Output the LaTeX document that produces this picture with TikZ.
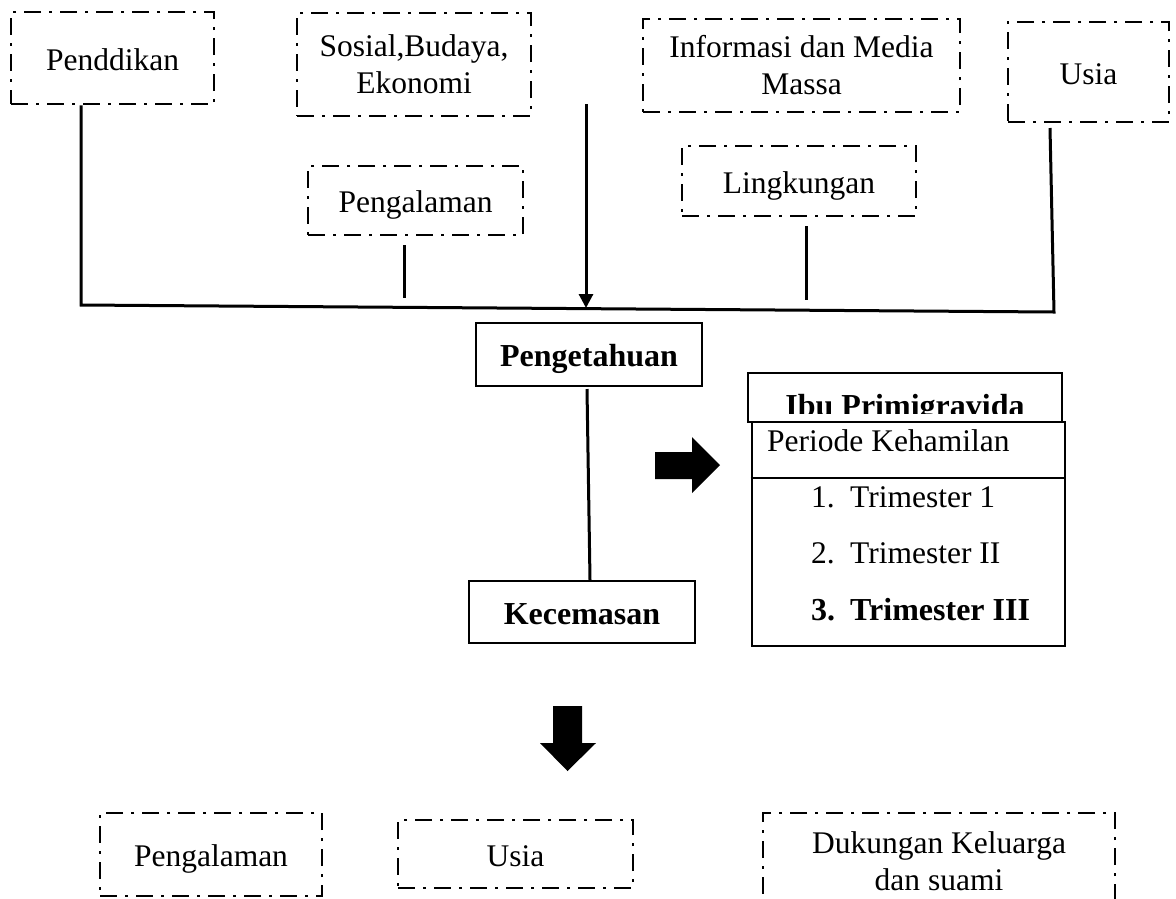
\documentclass[tikz,border=0pt]{standalone}
\usepackage{fontspec}
\setmainfont{Liberation Serif}
\usetikzlibrary{arrows.meta}
\begin{document}
\begin{tikzpicture}[x=1pt,y=-1pt,
  txt/.style={font=\fontsize{31.5}{37}\selectfont},
  btxt/.style={font=\bfseries\fontsize{32}{37}\selectfont},
  oneline/.style={text height=24pt, text depth=0pt},
  dbox/.style={draw, line width=2.6pt, dash pattern=on 17pt off 8pt on 3pt off 8pt,
    inner sep=0pt, align=center, txt},
  sbox/.style={draw, line width=2.6pt, inner sep=0pt, btxt, oneline},
  conn/.style={line width=3pt},
  blockarrow/.style={fill=black},
]
\useasboundingbox (0,0) rectangle (1176,898);
\clip (0,0) rectangle (1176,898);

% top factor boxes
\node[dbox, oneline, minimum width=203pt, minimum height=92pt] (pend) at (112.5,58) {Penddikan};
\node[dbox, minimum width=234pt, minimum height=103pt] (sos) at (414,64.5) {Sosial,Budaya,\\Ekonomi};
\node[dbox, minimum width=317pt, minimum height=93pt] (info) at (801.5,65.5) {Informasi dan Media\\Massa};
\node[dbox, oneline, minimum width=161pt, minimum height=100pt] (usiaA) at (1088.5,72) {Usia};
\node[dbox, oneline, minimum width=215pt, minimum height=69pt] (pengA) at (415.5,200.5) {Pengalaman};
\node[dbox, oneline, minimum width=234pt, minimum height=70pt] (ling) at (799,181) {Lingkungan};

% junction coordinates
\coordinate (jL) at (81,305);
\coordinate (jR) at (1054,312);
\coordinate (pengAtop) at (404,245);
\coordinate (pengAbot) at (404,298);
\coordinate (sosA) at (586,104);
\coordinate (sosB) at (586,308);
\coordinate (lingtop) at (806,226);
\coordinate (lingbot) at (806,300);
\coordinate (usiatop) at (1050,128);

\draw[conn] (pend.south -| jL) -- (jL) -- (jR) -- (usiatop);
\draw[conn] (pengAtop) -- (pengAbot);
\draw[conn] (lingtop) -- (lingbot);
\draw[conn, -{Triangle[length=14pt,width=14pt]}] (sosA) -- (sosB);

% middle
\node[sbox, minimum width=226pt, minimum height=63pt] (peng) at (589,354.5) {Pengetahuan};
\node[sbox, minimum width=226pt, minimum height=62pt] (kec) at (582,612) {Kecemasan};
\coordinate (pk1) at (587,389);
\coordinate (pk2) at (590,580);
\draw[conn] (pk1) -- (pk2);

% right block arrow
\fill[blockarrow] (655,452) -- (692,452) -- (692,437) -- (720,465) -- (692,493) -- (692,479) -- (655,479) -- cycle;

% Ibu Primigravida box
\node[draw, line width=2.6pt, minimum width=314pt, minimum height=49pt, inner sep=0pt] (ibu) at (905,397.5) {};
\begin{scope}
\clip (750,374) rectangle (1060,413);
\node[btxt, anchor=base, inner sep=0pt] (ibut) at (905,416) {Ibu Primigravida};
\end{scope}

% Periode box
\node[draw, line width=2.6pt, minimum width=313pt, minimum height=224pt, inner sep=0pt] (per) at (908.5,534) {};
\coordinate (divy) at (0,478);
\draw[line width=2.6pt] (per.west |- divy) -- (per.east |- divy);
\node[txt, anchor=base west, inner sep=0pt] (pertxt) at (767,451) {Periode Kehamilan};
\node[txt, anchor=base west, inner sep=0pt] (n1) at (811,507) {1.};
\node[txt, anchor=base west, inner sep=0pt] (t1) at (850,507) {Trimester 1};
\node[txt, anchor=base west, inner sep=0pt] (n2) at (811,563) {2.};
\node[txt, anchor=base west, inner sep=0pt] (t2) at (850,563) {Trimester II};
\node[btxt, anchor=base west, inner sep=0pt] (n3) at (811,620) {3.};
\node[btxt, anchor=base west, inner sep=0pt] (t3) at (850,620) {Trimester III};

% down block arrow
\fill[blockarrow] (553,706) -- (582,706) -- (582,743) -- (596,743) -- (567.5,771) -- (540,743) -- (553,743) -- cycle;

% bottom boxes
\node[dbox, oneline, minimum width=222pt, minimum height=83pt] (pengB) at (211,854.5) {Pengalaman};
\node[dbox, oneline, minimum width=235pt, minimum height=68pt] (usiaB) at (515.5,854) {Usia};
\node[dbox, minimum width=352pt, minimum height=96pt] (duk) at (939,861) {Dukungan Keluarga\\dan suami};
\end{tikzpicture}
\end{document}
